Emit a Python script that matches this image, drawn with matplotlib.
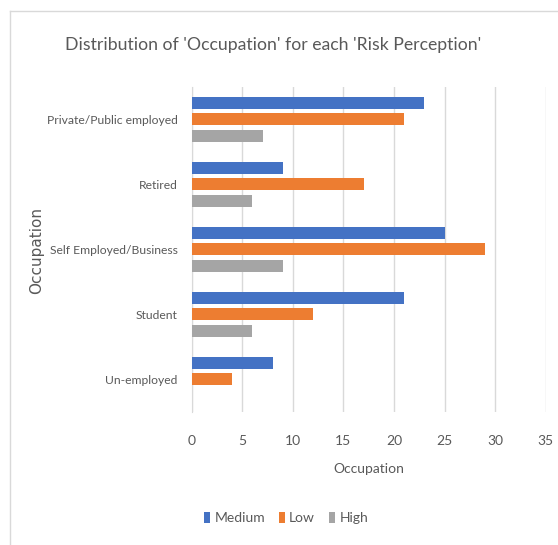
import numpy as np
import matplotlib.pyplot as plt
from matplotlib.lines import Line2D

plt.rcParams['font.family'] = ['Lato', 'DejaVu Sans']

occupations = ['Private/Public employed', 'Retired', 'Self Employed/Business', 'Student', 'Un-employed']
medium = [23, 9, 25, 21, 8]
low = [21, 17, 29, 12, 4]
high = [7, 6, 9, 6, 0]
series_names = ['Medium', 'Low', 'High']
colors = ['#4472C4', '#ED7D31', '#A5A5A5']

W, H = 558, 545
fig = plt.figure(figsize=(W / 100, H / 100), dpi=100)
ax = fig.add_axes([191.7 / W, 1 - 411.7 / H, (545.7 - 191.7) / W, (411.7 - 87) / H])

y = np.arange(len(occupations))
pitch = 0.25
bar_h = 0.185
for i, (vals, name, c) in enumerate(zip([medium, low, high], series_names, colors)):
    ax.barh(y + (i - 1) * pitch, vals, height=bar_h, color=c, label=name, zorder=3)

ax.set_ylim(len(occupations) - 0.5, -0.5)
ax.set_xlim(0, 35)
ax.set_xticks(range(0, 36, 5))
ax.set_yticks(y)
ax.set_yticklabels(occupations)
ax.grid(axis='x', color='#D9D9D9', linewidth=1, zorder=0)
for s in ['top', 'right', 'bottom']:
    ax.spines[s].set_visible(False)
ax.spines['left'].set_color('#D9D9D9')
ax.tick_params(length=0, colors='#595959')
ax.tick_params(axis='x', pad=17, labelsize=10)
ax.tick_params(axis='y', pad=10, labelsize=8.7)

ax.set_xlabel('Occupation', color='#595959', fontsize=10, labelpad=11)
fig.text(37 / W, 1 - 250 / H, 'Occupation', rotation=90, ha='center', va='center',
         color='#595959', fontsize=11, family='DejaVu Sans')

fig.text(273 / W, 1 - 45 / H, "Distribution of 'Occupation' for each 'Risk Perception'",
         ha='center', va='center', color='#595959', fontsize=12.7)

leg = fig.legend(loc='center', bbox_to_anchor=(286 / W, 1 - 518 / H), ncol=3, frameon=False,
                 handlelength=0.45, handleheight=0.9, handletextpad=0.3, columnspacing=1.0,
                 fontsize=10)
for t in leg.get_texts():
    t.set_color('#595959')

# light frame around the chart
fig.add_artist(Line2D([10 / W, 10 / W], [0, 1 - 11 / H], color='#D9D9D9', linewidth=1))
fig.add_artist(Line2D([10 / W, 1], [1 - 11 / H, 1 - 11 / H], color='#D9D9D9', linewidth=1))

fig.savefig('out.png', dpi=100)
